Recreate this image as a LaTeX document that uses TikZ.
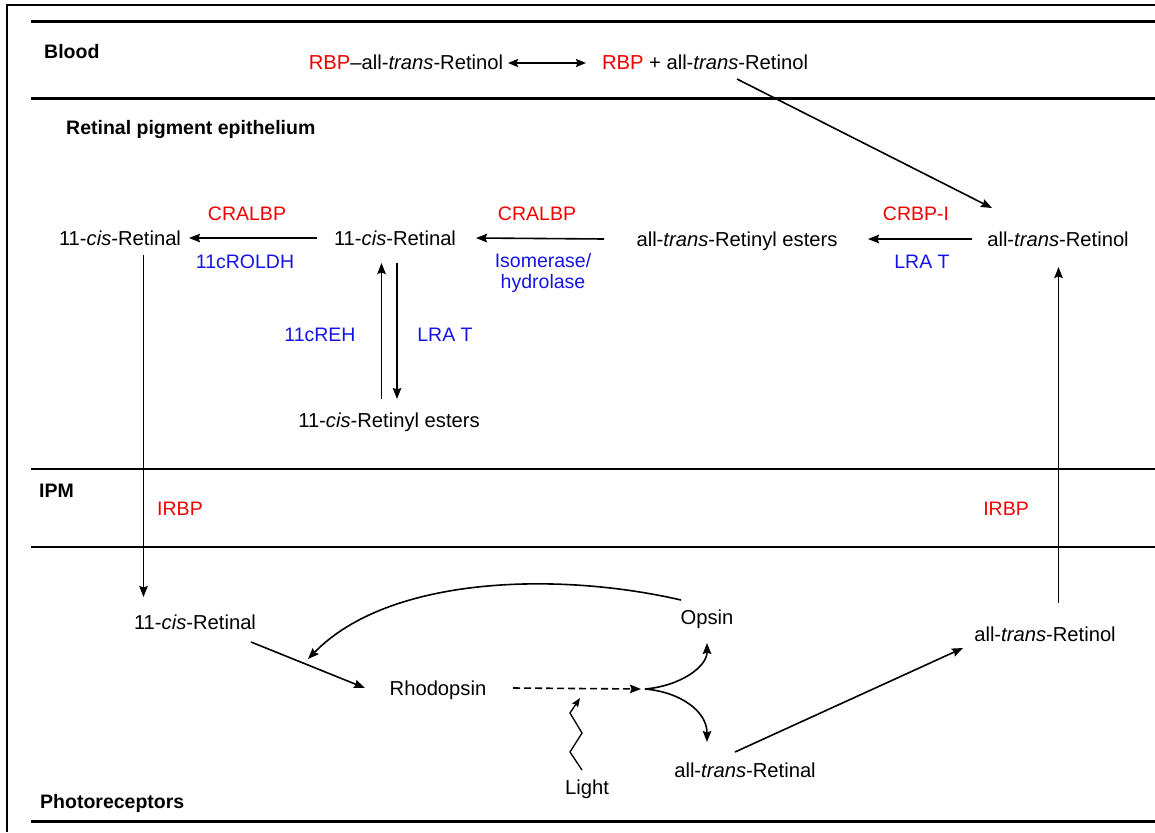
\documentclass[tikz,border=0pt]{standalone}
\usepackage{fontspec}
\setmainfont{Liberation Sans}
\usetikzlibrary{arrows.meta,calc}
\definecolor{protred}{RGB}{240,0,0}
\definecolor{enzblue}{RGB}{20,20,230}
\begin{document}
\begin{tikzpicture}[x=1pt,y=-1pt,
  every node/.style={font=\fontsize{19.5}{21}\selectfont, inner sep=0pt},
  lbl/.style={text height=14pt, text depth=0pt},
  spec/.style={lbl, font=\fontsize{20.2}{21}\selectfont},
  layer/.style={font=\fontsize{19.5}{21}\selectfont\bfseries, anchor=west, text height=14pt, text depth=0pt},
  prot/.style={lbl, text=protred},
  enz/.style={lbl, text=enzblue},
  arr/.style={line width=1.6pt, -{Stealth[length=11pt,width=8.5pt,inset=1.5pt]}},
  dbl/.style={line width=2pt, {Stealth[length=10pt,width=8pt,inset=1.5pt]}-{Stealth[length=10pt,width=8pt,inset=1.5pt]}},
  thickrule/.style={line width=3pt},
  midrule/.style={line width=2.2pt},
]
\useasboundingbox (0,0) rectangle (1155,832);
% frame and layer rules
\draw[line width=1.5pt] (7,832) -- (7,5) -- (1155,5);
\draw[thickrule] (31,22) -- (1155,22);
\draw[thickrule] (31,99) -- (1155,99);
\draw[midrule] (31,469) -- (1155,469);
\draw[midrule] (31,547) -- (1155,547);
\draw[thickrule] (31,821) -- (1155,821);

% layer names
\node[layer] (blood) at (44,52) {Blood};
\node[layer] (rpe) at (66,127) {Retinal pigment epithelium};
\node[layer] (ipm) at (39,490) {IPM};
\node[layer] (photo) at (40,801) {Photoreceptors};

% blood
\node[spec] (rbp1) at (406,63) {\textcolor{protred}{RBP}–all-\textit{trans}-Retinol};
\node[spec] (rbp2) at (705,63) {\textcolor{protred}{RBP} + all-\textit{trans}-Retinol};

% RPE
\node[spec] (atrol) at (1058,239) {all-\textit{trans}-Retinol};
\node[spec] (atre) at (737,239) {all-\textit{trans}-Retinyl esters};
\node[spec] (r11m) at (395,238) {11-\textit{cis}-Retinal};
\node[spec] (r11l) at (120,238) {11-\textit{cis}-Retinal};
\node[spec] (ester) at (389,420) {11-\textit{cis}-Retinyl esters};

\node[prot] (cralbpa) at (247,213) {CRALBP};
\node[enz] (roldh) at (245,261) {11cROLDH};
\node[prot] (cralbpb) at (537,213) {CRALBP};
\node[align=center, text=enzblue, font=\fontsize{19.5}{20.5}\selectfont] (iso) at (543,273) {Isomerase/\\hydrolase};
\node[prot] (crbp) at (916,213) {CRBP-I};
\node[enz] (lrata) at (922,261) {LRA T};
\node[enz] (reh) at (320,334) {11cREH};
\node[enz] (lratb) at (445,334) {LRA T};

% IPM
\node[prot] (irbpa) at (180,508) {IRBP};
\node[prot] (irbpb) at (1006,508) {IRBP};

% photoreceptors
\node[spec] (r11b) at (195,622) {11-\textit{cis}-Retinal};
\node[spec] (rhod) at (438,688) {Rhodopsin};
\node[spec] (opsin) at (707,617) {Opsin};
\node[spec] (atral) at (745,770) {all-\textit{trans}-Retinal};
\node[spec] (atrolb) at (1045,634) {all-\textit{trans}-Retinol};
\node[spec] (light) at (587,787) {Light};
\coordinate (fork) at (645,689);
\coordinate (opsend) at (308,659);

% connectors
\draw[dbl] ([shift={(102,0)}]rbp1.center) -- ([shift={(-119,0)}]rbp2.center);
\draw[arr] ([shift={(32,16)}]rbp2.center) -- ([shift={(-66,-31)}]atrol.center);
\draw[arr] ([shift={(-86,0)}]atrol.center) -- ([shift={(131,0)}]atre.center);
\draw[arr] ([shift={(-133,0)}]atre.center) -- ([shift={(81,0)}]r11m.center);
\draw[arr] ([shift={(-78,0)}]r11m.center) -- ([shift={(69,0)}]r11l.center);
\draw[arr] ([shift={(-7.5,-21)}]ester.center) -- ([shift={(-13.5,25)}]r11m.center);
\draw[arr] ([shift={(2,25)}]r11m.center) -- ([shift={(8,-21)}]ester.center);
\draw[arr] ([shift={(23.5,17)}]r11l.center) -- ([shift={(-51.5,-25)}]r11b.center);
\draw[arr] ([shift={(13.5,-31)}]atrolb.center) -- ([shift={(0.5,28)}]atrol.center);
\draw[arr] ([shift={(56,20)}]r11b.center) -- ([shift={(-73,0)}]rhod.center);
\draw[arr, dash pattern=on 7pt off 4pt] ([shift={(75,0)}]rhod.center) -- ([xshift=-4pt]fork);
\draw[arr] (fork) .. controls (680,686) and (707,667) .. ([shift={(0,26)}]opsin.center);
\draw[arr] (fork) .. controls (680,692) and (707,711) .. ([shift={(-38,-28)}]atral.center);
\draw[arr] ([shift={(-26,-17)}]opsin.center) .. controls (560,572) and (390,575) .. (opsend);
\draw[arr] ([shift={(-10,-18)}]atral.center) -- ([shift={(-82,14)}]atrolb.center);
\draw[line width=1.3pt, -{Stealth[length=9pt,width=7pt,inset=1.5pt]}] ([shift={(-5,-17)}]light.center) -- ++(-12,-18) -- ++(12,-19) -- ++(-12,-20) -- ++(10,-15);
\end{tikzpicture}
\end{document}
